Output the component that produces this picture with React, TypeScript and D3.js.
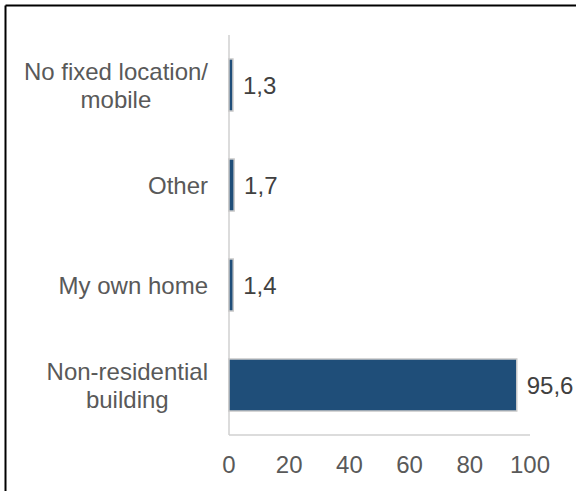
import React from "react";
import * as d3 from "d3";

const categories: string[][] = [
  ["No fixed location/", "mobile"],
  ["Other"],
  ["My own home"],
  ["Non-residential", "building"],
];
const values: number[] = [1.3, 1.7, 1.4, 95.6];
const xTicks: number[] = [0, 20, 40, 60, 80, 100];

const W = 576;
const H = 491;
const FONT = "'Liberation Sans', Arial, sans-serif";
const FS = 24;

function measure(text: string): number {
  const c = document.createElement("canvas").getContext("2d");
  if (!c) return text.length * FS * 0.5;
  c.font = `${FS}px 'Liberation Sans', Arial, sans-serif`;
  return c.measureText(text).width;
}

export default function App() {
  const left = 229;
  const right = 530;
  const top = 35;
  const bottom = 435;

  const x = d3.scaleLinear().domain([0, 100]).range([left, right]);
  const keys = categories.map((_, i) => String(i));
  const y = d3.scaleBand().domain(keys).range([top, bottom]).paddingInner(0.48).paddingOuter(0.24);
  const fmt = (v: number) => d3.format(".1f")(v).replace(".", ",");

  const labelRight = 208;
  const lineH = 28;

  return (
    <svg
      width={W}
      height={H}
      style={{ position: "absolute", left: 0, top: 0, background: "#fff" }}
      fontFamily={FONT}
    >
      <rect x={0} y={0} width={W} height={H} fill="#fff" />
      <line x1={5.5} y1={5.5} x2={W} y2={5.5} stroke="#000" strokeWidth={2} />
      <line x1={5.5} y1={5.5} x2={5.5} y2={H} stroke="#000" strokeWidth={2} />

      {/* axes */}
      <line x1={left} y1={top} x2={left} y2={bottom} stroke="#d0d0d0" strokeWidth={1.5} />
      <line x1={left} y1={bottom} x2={right} y2={bottom} stroke="#d0d0d0" strokeWidth={1.5} />

      {/* bars */}
      {values.map((v, i) => {
        const y0 = y(String(i))!;
        return (
          <rect
            key={i}
            x={x(0)}
            y={y0}
            width={x(v) - x(0)}
            height={y.bandwidth()}
            fill="#1f4e79"
            stroke="#c8c8c8"
            strokeWidth={1.5}
          />
        );
      })}

      {/* value labels */}
      {values.map((v, i) => {
        const cy = y(String(i))! + y.bandwidth() / 2;
        return (
          <text key={i} x={x(v) + 10} y={cy + 8.5} fontSize={FS} fill="#404040">
            {fmt(v)}
          </text>
        );
      })}

      {/* category labels */}
      {categories.map((lines, i) => {
        const cy = y(String(i))! + y.bandwidth() / 2;
        const bw = Math.max(...lines.map(measure));
        const cx = labelRight - bw / 2;
        const startY = cy - ((lines.length - 1) * lineH) / 2;
        return (
          <text key={i} fontSize={FS} fill="#595959" textAnchor="middle">
            {lines.map((l, j) => (
              <tspan key={j} x={cx} y={startY + j * lineH + 8.5}>
                {l}
              </tspan>
            ))}
          </text>
        );
      })}

      {/* x tick labels */}
      {xTicks.map((t) => (
        <text key={t} x={x(t)} y={472.5} fontSize={FS} fill="#595959" textAnchor="middle">
          {t}
        </text>
      ))}
    </svg>
  );
}
